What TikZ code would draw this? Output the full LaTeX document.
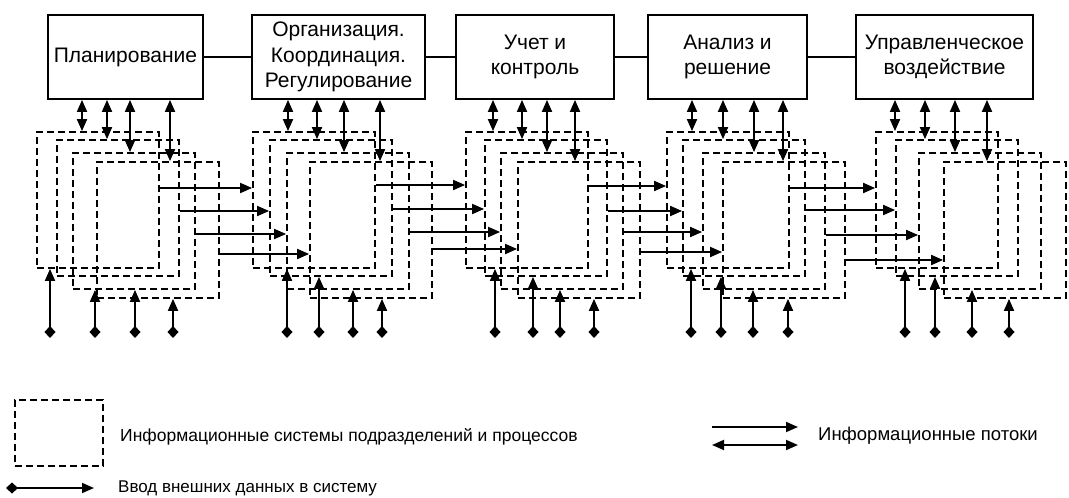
\documentclass[tikz,border=0pt]{standalone}
\usepackage{fontspec}
\setmainfont{Liberation Sans}
\usetikzlibrary{arrows.meta}

\tikzset{
  blk/.style={draw, line width=1.8pt, minimum height=84pt, inner sep=2pt, align=center, font=\fontsize{21}{25.5}\selectfont},
  sys/.style={draw, line width=1.8pt, dash pattern=on 7pt off 4pt, minimum width=122pt, minimum height=136pt, inner sep=0pt},
  flow/.style={line width=1.8pt, -{Triangle[length=12pt,width=10pt]}},
  dbl/.style={line width=1.8pt, {Triangle[length=12pt,width=10pt]}-{Triangle[length=12pt,width=10pt]}},
  inp/.style={line width=1.8pt, {Diamond[length=12pt,width=11pt]}-{Triangle[length=12pt,width=10pt]}},
  lbl/.style={anchor=west, inner sep=0pt}
}

\begin{document}
\begin{tikzpicture}[x=1pt, y=-1pt]
\useasboundingbox (0,0) rectangle (1069,498);

% блоки управления
\node[blk, minimum width=155pt] (b1) at (125.5,57) {Планирование};
\node[blk, minimum width=173pt] (b2) at (338.5,57) {Организация.\\Координация.\\Регулирование};
\node[blk, minimum width=158pt] (b3) at (535,57) {Учет и\\контроль};
\node[blk, minimum width=159pt] (b4) at (727.5,57) {Анализ и\\решение};
\node[blk, minimum width=177pt] (b5) at (944.5,57) {Управленческое\\воздействие};
\foreach \i/\j in {1/2, 2/3, 3/4, 4/5}
    \draw[line width=1.8pt] (b\i.east) -- (b\j.west);

% информационные системы (группа/слой/левый край/верх)
\foreach \g/\r/\x/\y in {
1/1/37/132, 1/2/57/140, 1/3/73/153, 1/4/97/162,
2/1/253/132, 2/2/270/140, 2/3/287/153, 2/4/310/162,
3/1/466/132, 3/2/485/140, 3/3/501/153, 3/4/518/162,
4/1/667/132, 4/2/683/140, 4/3/703/153, 4/4/723/162,
5/1/876/132, 5/2/896/140, 5/3/919/153, 5/4/944/162
}{
    \node[sys] (g\g-\r) at ({\x+61},{\y+68}) {};
}

% связь блоков с системами
\foreach \g/\r/\x in {
1/1/82, 1/2/107, 1/3/130, 1/4/170,
2/1/288, 2/2/317, 2/3/344, 2/4/380,
3/1/493, 3/2/522, 3/3/547, 3/4/575,
4/1/692, 4/2/723, 4/3/754, 4/4/783,
5/1/895, 5/2/925, 5/3/955, 5/4/987
}{
    \draw[dbl] (b\g.south -| \x,0) -- (g\g-\r.north -| \x,0);
}

% информационные потоки между группами
\foreach \g/\r/\y in {
1/1/188, 1/2/211, 1/3/234, 1/4/254,
2/1/185, 2/2/209, 2/3/232, 2/4/249,
3/1/186, 3/2/211, 3/3/232, 3/4/252,
4/1/188, 4/2/210, 4/3/235, 4/4/260
}{
    \pgfmathtruncatemacro{\n}{\g+1}
    \draw[flow] (g\g-\r.east |- 0,\y) -- (g\n-\r.west |- 0,\y);
}

% ввод внешних данных
\foreach \g/\k/\r/\x in {
1/1/1/50, 1/2/3/95, 1/3/3/135, 1/4/4/173,
2/1/1/287, 2/2/2/319, 2/3/3/353, 2/4/4/382,
3/1/1/495, 3/2/2/533, 3/3/3/560, 3/4/4/594,
4/1/1/691, 4/2/2/721, 4/3/3/753, 4/4/4/788,
5/1/1/905, 5/2/2/935, 5/3/3/972, 5/4/4/1009
}{
    \coordinate (in\g-\k) at (\x,338);
    \draw[inp] (in\g-\k) -- (g\g-\r.south -| \x,0);
}

% легенда
\node[sys, minimum width=88pt, minimum height=66pt] (legsys) at (59,433) {};
\node[lbl, font=\fontsize{17.5}{21}\selectfont] (legsyst) at (120,437) {Информационные системы подразделений и процессов};

\coordinate (fla) at (712,427);
\coordinate (flb) at (798,427);
\coordinate (flc) at (712,445);
\coordinate (fld) at (798,445);
\draw[flow] (fla) -- (flb);
\draw[dbl] (flc) -- (fld);
\node[lbl, font=\fontsize{18.5}{22}\selectfont] (legflt) at (818,436) {Информационные потоки};

\coordinate (lina) at (6,488);
\coordinate (linb) at (94,488);
\draw[inp] (lina) -- (linb);
\node[lbl, font=\fontsize{17}{20}\selectfont] (leginp) at (118,488) {Ввод внешних данных в систему};

\end{tikzpicture}
\end{document}
